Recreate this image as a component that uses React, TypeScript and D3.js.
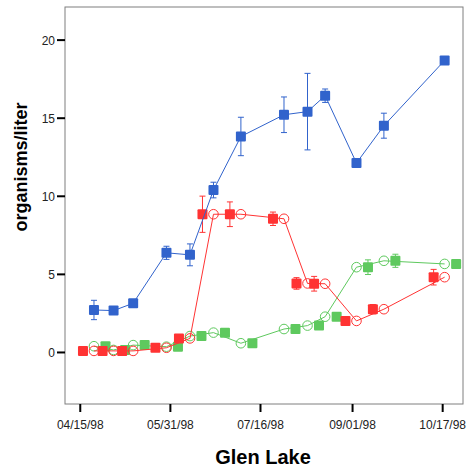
import React from "react";
import * as d3 from "d3";

// Sampling dates (shared by all three series)
const sampleDates = [
  "1998-04-22", "1998-05-02", "1998-05-12", "1998-05-29", "1998-06-10",
  "1998-06-22", "1998-07-06", "1998-07-28", "1998-08-09", "1998-08-18",
  "1998-09-03", "1998-09-17", "1998-10-18",
];

// Mean organisms/liter and half-width of the error bars
const blueMeans = [2.72, 2.68, 3.15, 6.38, 6.25, 10.4, 13.83, 15.22, 15.42, 16.44, 12.13, 14.52, 18.7];
const blueErrors = [0.62, 0, 0, 0.42, 0.7, 0.5, 1.23, 1.14, 2.45, 0.43, 0, 0.8, 0];

const redMeans = [0.1, 0.1, 0.1, 0.3, 0.9, 8.85, 8.85, 8.56, 4.42, 4.4, 2.02, 2.77, 4.82];
const redErrors = [0, 0, 0, 0, 0, 1.16, 0.79, 0.43, 0.37, 0.47, 0, 0.3, 0.5];

const greenMeans = [0.4, 0.16, 0.47, 0.37, 1.05, 1.27, 0.59, 1.5, 1.72, 2.29, 5.46, 5.87, 5.67];
const greenErrors = [0, 0, 0, 0, 0, 0, 0, 0, 0, 0, 0.47, 0.42, 0];

const xTickDates = ["1998-04-15", "1998-05-31", "1998-07-16", "1998-09-01", "1998-10-17"];
const yTicks = [0, 5, 10, 15, 20];

const W = 467;
const H = 475;
const plot = { left: 65, right: 463, top: 7, bottom: 404 };

const parse = d3.utcParse("%Y-%m-%d");
const fmt = d3.utcFormat("%m/%d/%y");

const x = d3
  .scaleUtc()
  .domain([new Date(Date.UTC(1998, 3, 7, 5)), new Date(Date.UTC(1998, 9, 27, 9))])
  .range([plot.left, plot.right]);
const y = d3.scaleLinear().domain([-3.3, 22.12]).range([plot.bottom, plot.top]);

type Series = {
  means: number[];
  errors: number[];
  color: string;
  squareShift: number; // horizontal offset of the square/error-bar markers
  circles: boolean;
};

const seriesList: Series[] = [
  { means: greenMeans, errors: greenErrors, color: "#5ec95e", squareShift: 11.5, circles: true },
  { means: redMeans, errors: redErrors, color: "#ff3333", squareShift: -11, circles: true },
  { means: blueMeans, errors: blueErrors, color: "#3163cc", squareShift: 0, circles: false },
];

const dates = sampleDates.map((s) => parse(s) as Date);

function SeriesMarks({ s }: { s: Series }) {
  const pts = s.means.map((v, i) => [x(dates[i]), y(v)] as [number, number]);
  const line = d3.line()(pts) || "";
  const sq = 10;
  const cap = 3;
  return (
    <g>
      <path d={line} fill="none" stroke={s.color} strokeWidth={1} />
      {s.circles &&
        pts.map(([cx, cy], i) => (
          <circle key={"c" + i} cx={cx} cy={cy} r={4.8} fill="none" stroke={s.color} strokeWidth={1} />
        ))}
      {s.means.map((v, i) => {
        const cx = x(dates[i]) + s.squareShift;
        const e = s.errors[i];
        const y1 = y(v + e);
        const y2 = y(v - e);
        return (
          <g key={"s" + i}>
            {e > 0 && (
              <g stroke={s.color} strokeWidth={1}>
                <line x1={cx} x2={cx} y1={y1} y2={y2} />
                <line x1={cx - cap} x2={cx + cap} y1={y1} y2={y1} />
                <line x1={cx - cap} x2={cx + cap} y1={y2} y2={y2} />
              </g>
            )}
            <rect x={cx - sq / 2} y={y(v) - sq / 2} width={sq} height={sq} rx={1} fill={s.color} />
          </g>
        );
      })}
    </g>
  );
}

export default function App() {
  const font = "'Liberation Sans', Arial, sans-serif";
  return (
    <svg width={W} height={H} style={{ position: "absolute", left: 0, top: 0 }}>
      <rect x={0} y={0} width={W} height={H} fill="#fff" />
      {/* plot frame */}
      <rect
        x={plot.left}
        y={plot.top}
        width={plot.right - plot.left}
        height={plot.bottom - plot.top}
        fill="#fff"
        stroke="#7f7f7f"
        strokeWidth={1}
      />
      {/* y axis */}
      {yTicks.map((t) => (
        <g key={t}>
          <line x1={plot.left - 8} x2={plot.left} y1={y(t)} y2={y(t)} stroke="#000" strokeWidth={2} />
          <text x={55} y={y(t) + 4.5} textAnchor="end" fontFamily={font} fontSize={12} fill="#222">
            {t}
          </text>
        </g>
      ))}
      {/* x axis */}
      {xTickDates.map((s) => {
        const d = parse(s) as Date;
        const px = x(d);
        return (
          <g key={s}>
            <line x1={px} x2={px} y1={plot.bottom} y2={plot.bottom + 8} stroke="#000" strokeWidth={2} />
            <text x={px} y={429} textAnchor="middle" fontFamily={font} fontSize={12} fill="#222">
              {fmt(d)}
            </text>
          </g>
        );
      })}
      {seriesList.map((s, i) => (
        <SeriesMarks key={i} s={s} />
      ))}
      <text
        transform="translate(27,167) rotate(-90)"
        textAnchor="middle"
        fontFamily={font}
        fontSize={18}
        fontWeight="bold"
        fill="#000"
      >
        organisms/liter
      </text>
      <text x={263} y={464} textAnchor="middle" fontFamily={font} fontSize={20} fontWeight="bold" fill="#000">
        Glen Lake
      </text>
    </svg>
  );
}
